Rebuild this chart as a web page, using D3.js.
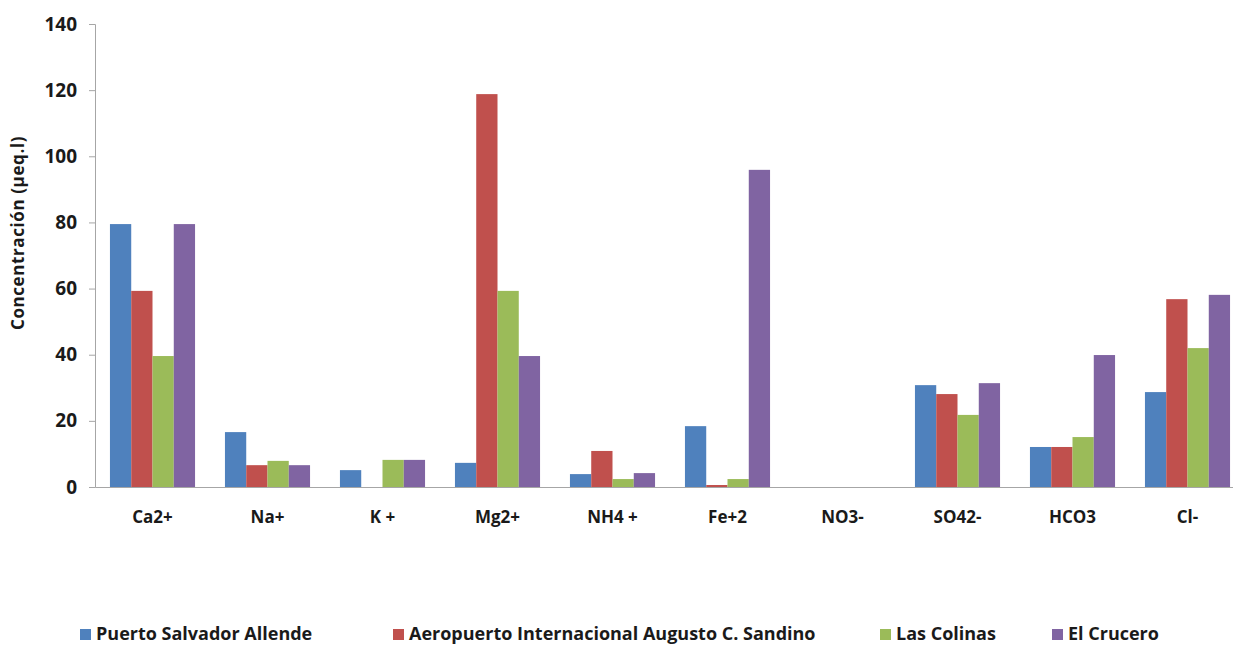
<!DOCTYPE html>
<html><head><meta charset="utf-8">
<script src="https://cdn.jsdelivr.net/npm/d3@7"></script>
<style>body{margin:0;background:#fff}svg{display:block}</style>
</head><body>
<svg id="c" width="1233" height="646"></svg>
<script>
const categories = ["Ca2+","Na+","K +","Mg2+","NH4 +","Fe+2","NO3-","SO42-","HCO3","Cl-"];
const seriesNames = ["Puerto Salvador Allende","Aeropuerto Internacional Augusto C. Sandino","Las Colinas","El Crucero"];
const puertoSalvador = [79.5,16.6,5.1,7.3,3.9,18.4,0,30.8,12.1,28.7];
const aeropuerto = [59.3,6.6,0,118.8,10.9,0.6,0,28.1,12.1,56.8];
const lasColinas = [39.6,7.9,8.2,59.3,2.4,2.4,0,21.8,15.1,42.0];
const elCrucero = [79.5,6.6,8.2,39.6,4.2,95.9,0,31.4,39.9,58.1];
const yTicks = [0,20,40,60,80,100,120,140];
const colors = ["#4F81BD","#C0504D","#9BBB59","#8064A2"];
const series = [puertoSalvador, aeropuerto, lasColinas, elCrucero];

const svg = d3.select("#c");
const font = "'Open Sans', 'Liberation Sans', sans-serif";
const x = d3.scaleBand().domain(categories).range([95,1245]).paddingInner(0.26).paddingOuter(0.13);
const y = d3.scaleLinear().domain([0,140]).range([487,24]);
const xs = d3.scaleBand().domain(d3.range(4)).range([0,x.bandwidth()]);

const g = svg.append("g");
categories.forEach((c,i)=>{
  series.forEach((s,j)=>{
    if (s[i] <= 0) return;
    g.append("rect").attr("x", x(c)+xs(j)).attr("width", xs.bandwidth())
      .attr("y", y(s[i])).attr("height", y(0)-y(s[i])).attr("fill", colors[j]);
  });
});

const ya = svg.append("g").attr("transform","translate(95,0)")
  .call(d3.axisLeft(y).tickValues(yTicks).tickSize(6).tickPadding(12));
ya.select(".domain").attr("stroke","#a6a6a6");
ya.selectAll(".tick line").attr("stroke","#a6a6a6");
ya.selectAll("text").attr("font-family",font).attr("font-weight","bold").attr("font-size",19).attr("fill","#1a1a1a");

const xa = svg.append("g").attr("transform","translate(0,487)")
  .call(d3.axisBottom(x).tickSize(0).tickPadding(24));
xa.select(".domain").attr("stroke","#a6a6a6");
xa.selectAll("text").attr("font-family",font).attr("font-weight","bold").attr("font-size",17).attr("fill","#1a1a1a");

svg.append("text").attr("transform","translate(24,233) rotate(-90)").attr("text-anchor","middle")
  .attr("font-family",font).attr("font-weight","bold").attr("font-size",17).attr("letter-spacing",0.6).attr("fill","#1a1a1a")
  .text("Concentración  (µeq.l)");

const legX = [80,393,880,1052];
seriesNames.forEach((n,j)=>{
  svg.append("rect").attr("x",legX[j]).attr("y",629).attr("width",11).attr("height",11).attr("fill",colors[j]);
  svg.append("text").attr("x",legX[j]+16).attr("y",640).attr("font-family",font).attr("font-weight","bold")
    .attr("font-size",18).attr("fill","#1a1a1a").text(n);
});
</script>
</body></html>
